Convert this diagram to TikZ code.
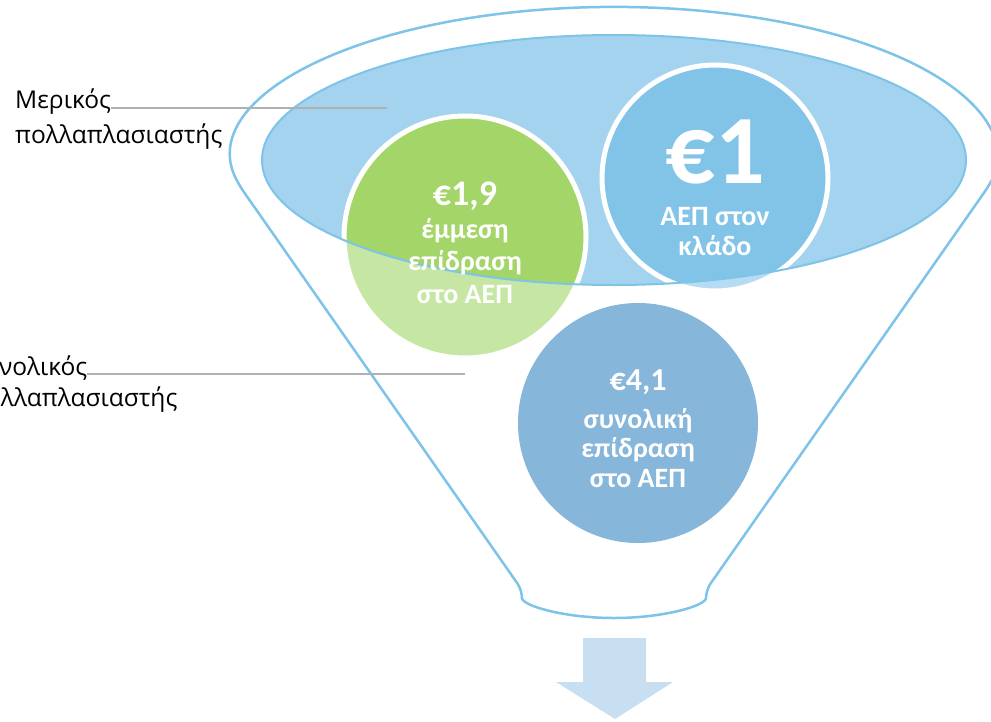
\documentclass[tikz,border=0pt]{standalone}
\usepackage{fontspec}
\setmainfont{Carlito}
\newfontfamily\labelfont{Open Sans}
\definecolor{funnelblue}{HTML}{7EC3E8}
\definecolor{rimblue}{HTML}{A3D3EF}
\definecolor{sectorblue}{HTML}{82C4E8}
\definecolor{sectorpale}{HTML}{B5DCF2}
\definecolor{indgreen}{HTML}{A3D568}
\definecolor{indpale}{HTML}{C6E6A4}
\definecolor{totalblue}{HTML}{86B6DA}
\definecolor{arrowblue}{HTML}{C7DFF1}
\definecolor{leadgray}{HTML}{B0B0B0}
\tikzset{
	circtext/.style={text=white, inner sep=0pt, align=center, anchor=base, font=\bfseries\fontsize{28}{30}\selectfont},
	sidelabel/.style={inner sep=0pt, anchor=base west, font=\labelfont\fontsize{24.5}{24.5}\selectfont},
	leader/.style={leadgray, line width=2pt}
}
\begin{document}
\begin{tikzpicture}[x=1pt, y=-1pt]
	\clip (0,0) rectangle (991,721);
	\fill [white] (0,0) rectangle (991,721);
	\draw [funnelblue, fill=white, line width=2.5pt, rounded corners=8pt] (239,185) arc [start angle=169.2, end angle=370.8, x radius=382, y radius=150] -- (706,590) arc [start angle=0, end angle=180, x radius=92, y radius=28] -- cycle;
	\fill [rimblue] (614,160) ellipse [x radius=352, y radius=125];
	\fill [indpale] (465,237) circle [radius=121];
	\fill [sectorpale] (715,178) circle [radius=113];
	\begin{scope}
		\clip (614,160) ellipse [x radius=352, y radius=125];
		\fill [indgreen] (465,237) circle [radius=121];
		\fill [sectorblue] (715,178) circle [radius=113];
	\end{scope}
	\draw [white, line width=5pt] (465,237) circle [radius=121];
	\draw [white, line width=5pt] (715,178) circle [radius=113];
	\draw [funnelblue, line width=2pt] (614,160) ellipse [x radius=352, y radius=125];
	\fill [totalblue] (638,423) circle [radius=120];
	\node [circtext, font=\bfseries\fontsize{98}{98}\selectfont] (sectorsum) at (715,183) {€1};
	\node [circtext] (sectortext) at (715,255) {ΑΕΠ στον\\κλάδο};
	\node [circtext, font=\bfseries\fontsize{36}{36}\selectfont] (indsum) at (465,205) {€1,9};
	\node [circtext, font=\bfseries\fontsize{28}{32.5}\selectfont] (indtext) at (465,303) {έμμεση\\επίδραση\\στο ΑΕΠ};
	\node [circtext, font=\bfseries\fontsize{32}{32}\selectfont] (totalsum) at (638,390) {€4,1};
	\node [circtext, font=\bfseries\fontsize{28}{29.5}\selectfont] (totaltext) at (638,487) {συνολική\\επίδραση\\στο ΑΕΠ};
	\node [sidelabel] (partial) at (15,108) {Μερικός};
	\node [sidelabel] (partialb) at (15,143) {πολλαπλασιαστής};
	\node [sidelabel] (overall) at (-30,375) {Συνολικός};
	\node [sidelabel] (overallb) at (-30,406) {πολλαπλασιαστής};
	\coordinate (partialtip) at (387,108);
	\coordinate (overalltip) at (465,374);
	\draw [leader] (partial.base east) -- (partialtip);
	\draw [leader] (overall.base east |- overalltip) -- (overalltip);
	\fill [arrowblue] (583,638) -- (646,638) -- (646,682) -- (673,682) -- (615,719) -- (556,682) -- (583,682) -- cycle;
\end{tikzpicture}
\end{document}
